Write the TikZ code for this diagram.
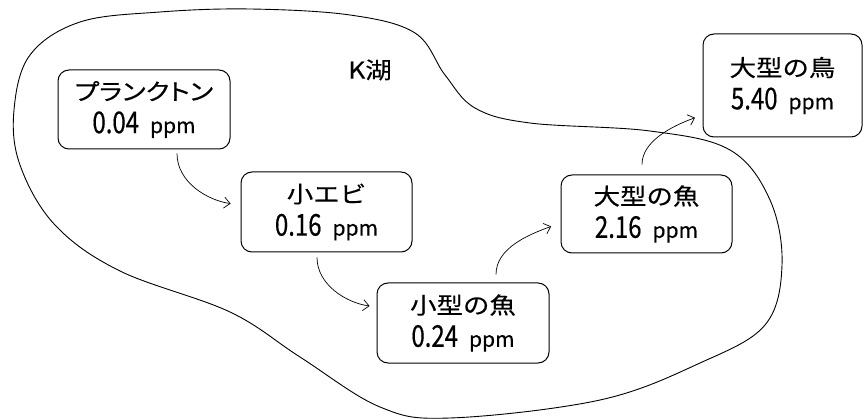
\documentclass[tikz,border=0pt]{standalone}
\usepackage{fontspec}
\setmainfont[FakeBold=0.4]{Noto Sans CJK JP}
\newfontfamily\cjf[FakeStretch=1.15,FakeBold=0.4]{Noto Sans CJK JP}
\newfontfamily\cjkana[FakeStretch=1.15,FakeBold=0.4,RawFeature=+palt]{Noto Sans CJK JP}
\newfontfamily\dgf[FakeStretch=0.8,FakeBold=0.4]{Noto Sans CJK JP}
\newfontfamily\upf[FakeBold=0.4]{Noto Sans CJK JP}
\usetikzlibrary{arrows.meta}
\newcommand\jtxt{\cjf\fontsize{23}{23}\selectfont}
\newcommand\ktxt{\cjkana\fontsize{23}{23}\selectfont}
\newcommand\ntxt{\dgf\fontsize{30}{30}\selectfont}
\newcommand\utxt{\upf\fontsize{21}{21}\selectfont}
\newcommand\ppmtxt[1]{{\ntxt #1}\hspace{11pt}{\utxt ppm}}
\tikzset{
  box/.style={draw, line width=1pt, rounded corners=11pt, align=center, inner sep=0pt,
    font=\fontsize{23}{33}\selectfont},
  conn/.style={-{Straight Barb[length=6pt,width=11pt]}, line width=0.7pt},
  lake/.style={draw, line width=0.9pt},
}
\begin{document}
\begin{tikzpicture}[x=1pt,y=-1pt]
\useasboundingbox (0,0) rectangle (864,419);
\draw[lake] plot[smooth cycle, tension=0.6] coordinates {
 (250,9) (350,15) (415,33) (445,75) (475,108) (530,123) (650,131) (730,150)
 (770,200) (782,265) (765,325) (700,363) (600,400) (450,418) (380,407) (300,357)
 (230,312) (120,271) (55,225) (20,165) (14,110) (30,55) (80,22) (160,12)};
\node[font=\jtxt] (lakename) at (370,70) {K湖};
\node[box, minimum width=172pt, minimum height=79pt] (plank) at (144,109.5)
  {{\ktxt プランクトン}\\\ppmtxt{0.04}};
\node[box, minimum width=171pt, minimum height=80pt] (shrimp) at (326.5,212)
  {{\jtxt 小エビ}\\\ppmtxt{0.16}};
\node[box, minimum width=172pt, minimum height=80pt] (sfish) at (463,323)
  {{\jtxt 小型の魚}\\\ppmtxt{0.24}};
\node[box, minimum width=171pt, minimum height=78pt] (lfish) at (646.5,214)
  {{\jtxt 大型の魚}\\\ppmtxt{2.16}};
\node[box, minimum width=159pt, minimum height=103pt] (bird) at (782.5,85.5)
  {{\jtxt 大型の鳥}\\\ppmtxt{5.40}};
\draw[conn, shorten <=4pt, shorten >=10pt] ([xshift=33pt]plank.south) to[out=-90,in=172] ([yshift=7pt]shrimp.west);
\draw[conn, shorten <=5pt, shorten >=7pt] ([xshift=-9.5pt]shrimp.south) to[out=-90,in=172] ([yshift=16pt]sfish.west);
\draw[conn, shorten <=8pt, shorten >=10pt] ([xshift=33pt]sfish.north) to[out=90,in=200] ([yshift=-9pt]lfish.west);
\draw[conn, shorten <=10pt, shorten >=8pt] ([xshift=-4.5pt]lfish.north) to[out=90,in=200] ([yshift=-29.5pt]bird.west);
\end{tikzpicture}
\end{document}
